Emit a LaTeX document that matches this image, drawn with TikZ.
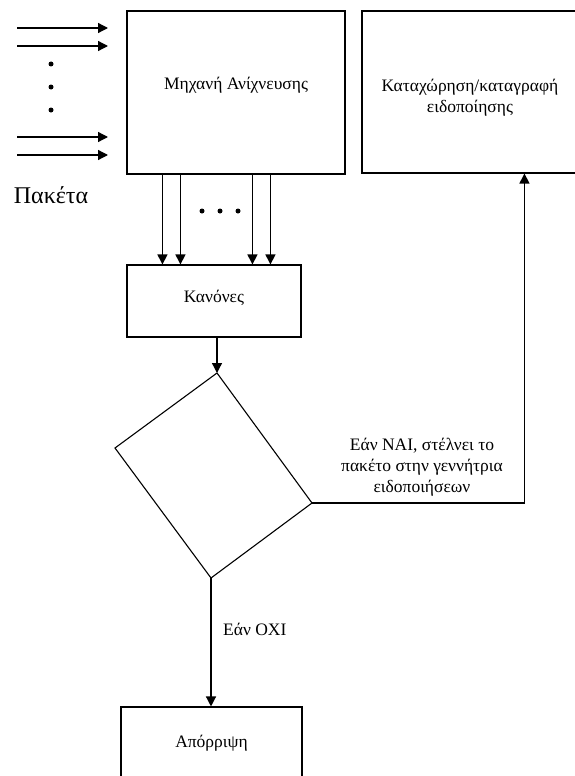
\documentclass[tikz,border=0pt]{standalone}
\usepackage{fontspec}
\setmainfont{Liberation Serif}
\usetikzlibrary{arrows.meta}
\begin{document}
\begin{tikzpicture}[x=1pt,y=-1pt,
  box/.style={draw,line width=1.1pt,inner sep=0pt},
  txt/.style={font=\fontsize{17.5}{21}\selectfont,align=center,inner sep=0pt},
  arr/.style={line width=1.3pt,-{Triangle[length=10pt,width=10pt]}},
  ln/.style={line width=1.1pt},
  dot/.style={fill,circle,inner sep=0pt,minimum size=5pt}]
\useasboundingbox (0,0) rectangle (575,776);
% boxes
\node[box,minimum width=218pt,minimum height=163pt] (engine) at (236,92.5) {};
\node[box,minimum width=216pt,minimum height=162pt] (alert) at (470,92) {};
\node[box,minimum width=174pt,minimum height=72pt] (rules) at (214,301) {};
\node[box,minimum width=181pt,minimum height=72pt] (drop) at (211.5,743) {};
\node[txt] (engineT) at (236,85) {Μηχανή Ανίχνευσης};
\node[txt] (alertT) at (470,98) {Καταχώρηση/καταγραφή\\ειδοποίησης};
\node[txt] (rulesT) at (214,298) {Κανόνες};
\node[txt] (dropT) at (211.5,743) {Απόρριψη};
% diamond
\coordinate (dtop) at (217,373);
\coordinate (dright) at (312,503);
\coordinate (dbot) at (211,578);
\coordinate (dleft) at (115,448);
\draw[ln,line join=miter] (dtop) -- (dright) -- (dbot) -- (dleft) -- cycle;
% input arrows
\foreach \i/\yy in {1/28,2/46,3/137,4/155}{
  \coordinate (in\i) at (17,\yy);
  \coordinate (inE\i) at (108,\yy);
  \draw[arr] (in\i) -- (inE\i);
}
\node[dot] (d1) at (51,64) {};
\node[dot] (d2) at (51,87) {};
\node[dot] (d3) at (51,110) {};
\node[font=\fontsize{24}{28}\selectfont,inner sep=0pt] (pk) at (51,195) {Πακέτα};
% engine -> rules
\foreach \o in {36,54,126,144}{
  \draw[arr] ([xshift=\o pt]engine.south west) -- ([xshift=\o pt]engine.south west |- rules.north);
}
\node[dot] (h1) at (202,211) {};
\node[dot] (h2) at (220,211) {};
\node[dot] (h3) at (238,211) {};
% rules -> diamond
\draw[arr] (dtop |- rules.south) -- (dtop);
% yes branch
\draw[arr] (dright) -| ([xshift=163pt]alert.south west);
\node[txt] (yesT) at (422,467) {Εάν ΝΑΙ, στέλνει το\\πακέτο στην γεννήτρια\\ειδοποιήσεων};
% no branch
\draw[arr] (dbot) -- (dbot |- drop.north);
\node[txt,anchor=west] (noT) at (223,629) {Εάν ΟΧΙ};
\end{tikzpicture}
\end{document}
